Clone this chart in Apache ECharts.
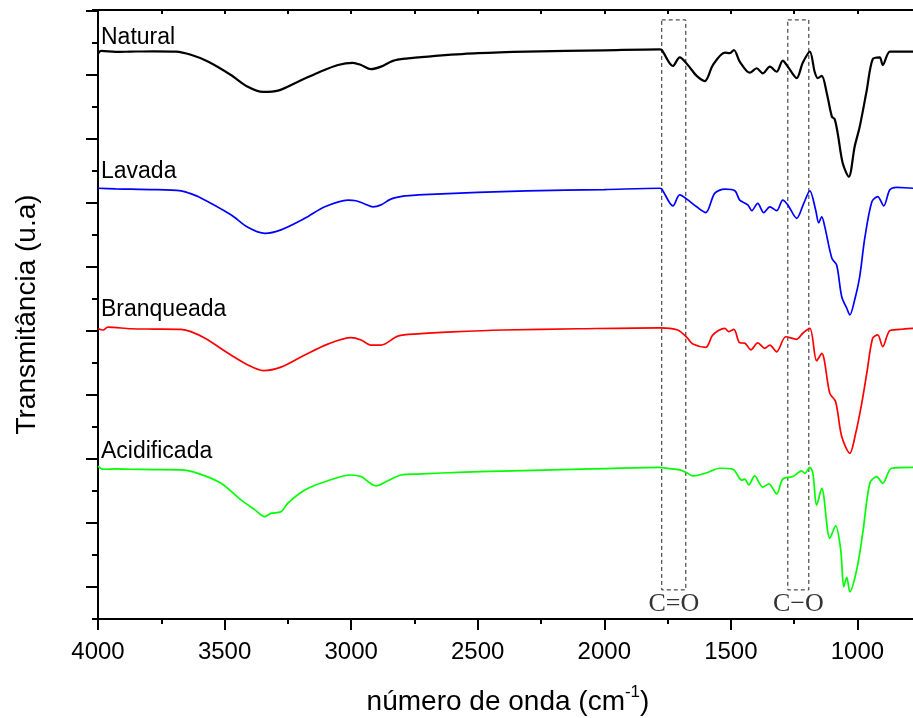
<!DOCTYPE html>
<html>
<head>
<meta charset="utf-8">
<script src="https://cdn.jsdelivr.net/npm/echarts@6/dist/echarts.min.js"></script>
<style>
  html, body { margin: 0; padding: 0; background: #ffffff; }
  #chart { width: 913px; height: 718px; }
</style>
</head>
<body>
<div id="chart"></div>
<script>
// FTIR spectra, [wavenumber (cm-1), transmittance (a.u., stacked offsets)]
const natural = [
  [4000,17.66],[3988,17.75],[3930,17.72],[3870,17.73],[3780,17.74],[3692,17.73],[3633,17.63],[3566,17.42],
  [3475,17.00],[3408,16.63],[3348,16.47],[3289,16.51],[3210,16.79],[3131,17.07],[3052,17.31],[2993,17.38],
  [2961,17.31],[2922,17.18],[2882,17.26],[2835,17.44],[2776,17.52],[2736,17.55],[2677,17.59],[2500,17.68],
  [2306,17.73],[2000,17.77],[1781,17.80],[1773,17.78],[1729,17.28],[1702,17.55],[1670,17.31],[1635,16.97],
  [1603,16.81],[1571,17.31],[1524,17.70],[1504,17.68],[1488,17.78],[1465,17.42],[1425,17.07],[1398,17.21],
  [1374,17.05],[1346,17.26],[1319,17.10],[1295,17.45],[1275,17.26],[1240,16.90],[1216,17.38],[1188,17.73],
  [1169,17.10],[1157,16.90],[1141,16.97],[1121,16.43],[1101,15.70],[1090,15.62],[1078,15.18],[1058,14.24],
  [1034,13.82],[1011,14.76],[991,15.38],[963,16.53],[940,17.49],[912,17.55],[900,17.31],[872,17.73],
  [833,17.73],[782,17.73],[700,17.73]
];
const lavada = [
  [4000,13.46],[3930,13.44],[3870,13.43],[3780,13.42],[3672,13.38],[3645,13.32],[3605,13.20],[3475,12.63],
  [3408,12.24],[3341,12.05],[3277,12.16],[3183,12.52],[3104,12.88],[3013,13.09],[2981,13.07],[2946,12.97],
  [2914,12.88],[2882,12.94],[2843,13.12],[2788,13.22],[2736,13.25],[2500,13.33],[2306,13.38],[2000,13.42],
  [1781,13.46],[1773,13.44],[1729,12.91],[1702,13.25],[1674,13.12],[1635,12.88],[1599,12.70],[1564,13.30],
  [1524,13.43],[1484,13.38],[1465,13.09],[1433,12.94],[1417,12.76],[1394,12.99],[1370,12.70],[1346,12.88],
  [1319,12.76],[1295,13.09],[1275,12.94],[1240,12.52],[1212,12.99],[1188,13.38],[1165,12.78],[1153,12.38],
  [1141,12.57],[1129,12.26],[1101,11.27],[1082,11.06],[1062,10.07],[1042,9.71],[1030,9.50],[1011,9.97],
  [991,10.70],[971,11.90],[943,13.04],[920,13.20],[896,12.91],[872,13.41],[845,13.49],[782,13.46],[700,13.46]
];
const branqueada = [
  [4000,9.08],[3980,9.03],[3961,9.12],[3870,9.07],[3780,9.06],[3672,9.05],[3633,8.98],[3577,8.77],
  [3475,8.25],[3408,7.94],[3348,7.76],[3277,7.87],[3183,8.25],[3092,8.59],[3001,8.79],[2961,8.72],
  [2922,8.56],[2882,8.56],[2815,8.84],[2736,8.91],[2600,8.97],[2401,9.03],[2100,9.07],[1781,9.10],
  [1710,9.03],[1674,8.80],[1650,8.59],[1599,8.49],[1571,8.88],[1524,9.08],[1508,8.98],[1488,9.05],
  [1465,8.63],[1445,8.62],[1421,8.41],[1394,8.63],[1366,8.46],[1346,8.56],[1319,8.35],[1283,8.82],
  [1240,8.74],[1216,8.93],[1188,9.08],[1161,8.07],[1141,8.30],[1109,7.05],[1086,6.79],[1062,5.70],
  [1030,5.18],[1007,5.80],[983,6.74],[963,7.68],[940,8.77],[920,8.88],[900,8.51],[872,9.01],
  [833,9.05],[782,9.08],[700,9.08]
];
const acidificada = [
  [4000,4.78],[3980,4.68],[3930,4.69],[3870,4.68],[3780,4.67],[3672,4.66],[3605,4.55],[3514,4.24],
  [3435,3.72],[3380,3.41],[3341,3.20],[3317,3.30],[3277,3.35],[3250,3.62],[3183,4.03],[3104,4.29],
  [3001,4.50],[2961,4.45],[2902,4.16],[2855,4.32],[2803,4.50],[2736,4.53],[2550,4.59],[2361,4.63],
  [2050,4.69],[1781,4.74],[1773,4.73],[1702,4.66],[1674,4.57],[1650,4.47],[1595,4.57],[1544,4.71],
  [1492,4.68],[1457,4.34],[1445,4.37],[1429,4.19],[1406,4.47],[1374,4.12],[1350,4.22],[1319,3.91],
  [1295,4.37],[1255,4.45],[1220,4.63],[1208,4.55],[1188,4.74],[1176,4.55],[1161,3.56],[1141,4.08],
  [1109,2.52],[1086,2.91],[1066,2.16],[1054,1.01],[1042,1.30],[1030,0.85],[1003,1.53],[979,2.68],
  [951,4.24],[924,4.45],[900,4.24],[865,4.71],[782,4.74],[700,4.74]
];

const sampleNames = ['Natural', 'Lavada', 'Branqueada', 'Acidificada'];
const spectra = [natural, lavada, branqueada, acidificada];
const sampleColors = ['#000000', '#0000ff', '#ff0000', '#00ff00'];

// Highlighted absorption regions (wavenumber span)
const bandLabels = ['C=O', 'C\u2212O'];
const bandFrom = [1773, 1275];
const bandTo = [1678, 1192];
const bandTop = 18.72;
const bandBottom = 0.91;

const SANS = '"Liberation Sans", Arial, Helvetica, sans-serif';
const SERIF = '"Liberation Serif", "Times New Roman", serif';
const axisColor = '#000';

const chart = echarts.init(document.getElementById('chart'), null, { renderer: 'canvas' });

const series = spectra.map((data, i) => ({
  type: 'line',
  name: sampleNames[i],
  data: data,
  symbol: 'none',
  smooth: 0.3,
  lineStyle: { color: sampleColors[i], width: i === 0 ? 2.2 : 1.7 },
  z: 3,
  animation: false
}));

series[0].markArea = {
  silent: true,
  itemStyle: {
    color: 'rgba(0,0,0,0)',
    borderColor: '#222',
    borderWidth: 1,
    borderType: [4, 3]
  },
  label: {
    show: true,
    position: 'bottom',
    distance: 1,
    fontFamily: SERIF,
    fontSize: 26,
    color: '#333'
  },
  data: bandLabels.map((name, k) => [
    { name: name, coord: [bandFrom[k], bandTop] },
    { coord: [bandTo[k], bandBottom] }
  ])
};

const labelY = [38, 172, 310, 452];
const plainNumber = v => String(v);

chart.setOption({
  backgroundColor: '#ffffff',
  animation: false,
  grid: { left: 98, top: 10, width: 886, height: 609, containLabel: false, outerBoundsMode: 'none' },
  xAxis: [
    {
      type: 'value', position: 'bottom', inverse: true,
      min: 500, max: 4000, interval: 500,
      axisLine: { show: true, onZero: false, lineStyle: { color: axisColor, width: 2 } },
      axisTick: { show: true, length: 11, lineStyle: { color: axisColor, width: 2 } },
      minorTick: { show: true, splitNumber: 2, length: 5, lineStyle: { color: axisColor, width: 2 } },
      axisLabel: { fontFamily: SANS, fontSize: 24, color: '#000', margin: 21, formatter: plainNumber },
      splitLine: { show: false }
    },
    {
      type: 'value', position: 'top', inverse: true,
      min: 500, max: 4000, interval: 250,
      axisLine: { show: true, onZero: false, lineStyle: { color: axisColor, width: 2 } },
      axisTick: { show: true, inside: true, length: 4, lineStyle: { color: axisColor, width: 2 } },
      axisLabel: { show: false },
      splitLine: { show: false }
    }
  ],
  yAxis: [
    {
      type: 'value', position: 'left',
      min: 0, max: 19.03, interval: 2,
      axisLine: { show: true, onZero: false, lineStyle: { color: axisColor, width: 2 } },
      axisTick: { show: true, length: 6, lineStyle: { color: axisColor, width: 2 } },
      minorTick: { show: true, splitNumber: 2, length: 12, lineStyle: { color: axisColor, width: 2 } },
      axisLabel: { show: false },
      splitLine: { show: false },
      name: 'Transmitância (u.a)',
      nameLocation: 'middle',
      nameGap: 57,
      nameTextStyle: { fontFamily: SANS, fontSize: 28, color: '#000' }
    }
  ],
  graphic: [
    ...sampleNames.map((name, i) => ({
      type: 'text',
      x: 101, y: labelY[i],
      silent: true,
      style: {
        text: name,
        fill: '#000',
        font: '23px ' + SANS,
        textAlign: 'left',
        textVerticalAlign: 'middle'
      }
    })),
    {
      type: 'text',
      x: 508, y: 700,
      silent: true,
      style: {
        text: '{t|número de onda (cm}{s|-1}{t|)}',
        textAlign: 'center',
        textVerticalAlign: 'middle',
        fill: '#000',
        rich: {
          t: { fontFamily: SANS, fontSize: 28, color: '#000', lineHeight: 32, verticalAlign: 'bottom' },
          s: { fontFamily: SANS, fontSize: 17, color: '#000', lineHeight: 32, verticalAlign: 'top' }
        }
      }
    }
  ],
  series: series
});
</script>
</body>
</html>
